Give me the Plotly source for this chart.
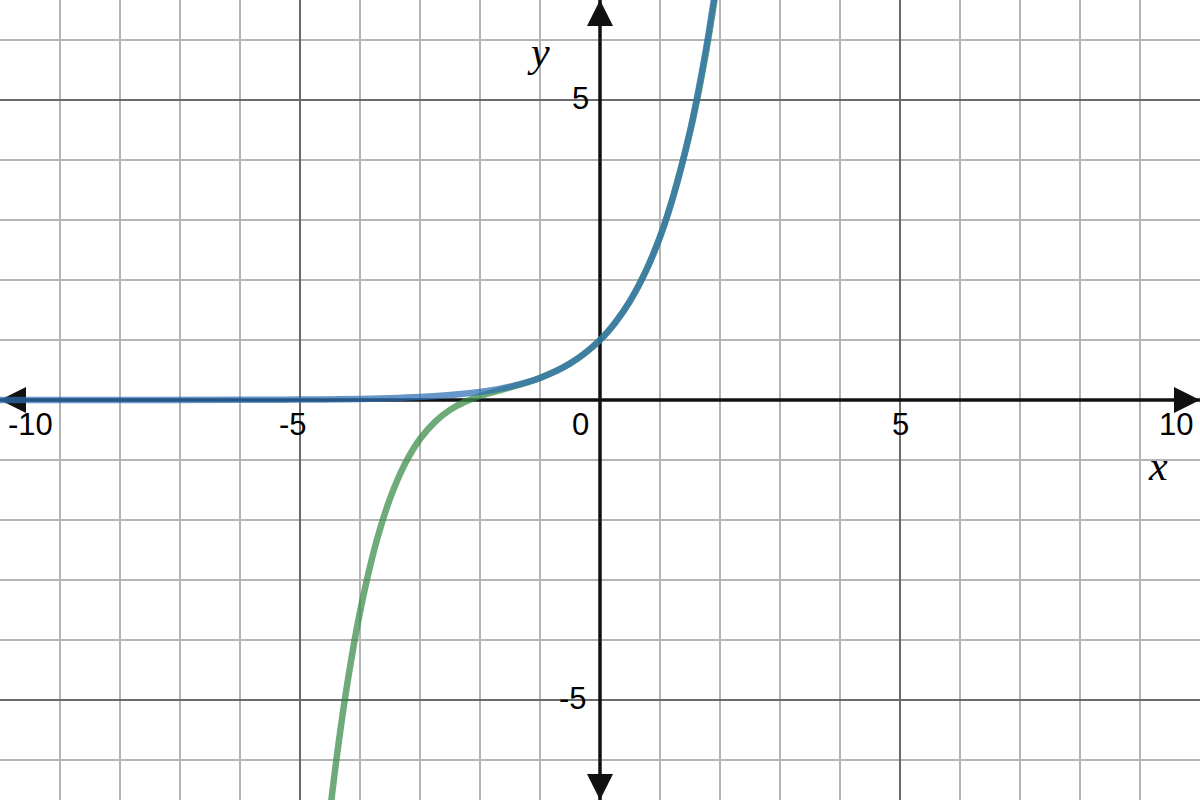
"""Desmos-style plot of e^x and its degree-5 Taylor polynomial."""

import plotly.graph_objects as go

# values
blue_x = [-10, -8, -6, -5, -4, -3.5, -3, -2.5, -2, -1.5, -1, -0.5, 0,
          0.25, 0.5, 0.75, 1, 1.25, 1.5, 1.75, 1.9, 2.0]
blue_y = [0.00005, 0.0003, 0.0025, 0.0067, 0.018, 0.030, 0.050, 0.082, 0.135,
          0.223, 0.368, 0.607, 1, 1.284, 1.649, 2.117, 2.718, 3.490, 4.482,
          5.755, 6.686, 7.389]

green_x = [-4.6, -4.4, -4.2, -4, -3.75, -3.5, -3.25, -3, -2.75, -2.5, -2.25,
           -2, -1.5, -1, -0.5, 0, 0.5, 1, 1.5, 1.75, 2]
green_y = [-7.751, -6.043, -4.654, -3.533, -2.448, -1.645, -1.063, -0.65,
           -0.363, -0.165, -0.030, 0.067, 0.210, 0.367, 0.6065, 1, 1.6487,
           2.7167, 4.4617, 5.702, 7.267]

x_ticks = [-10, -5, 5, 10]
x_tick_text = ["-10", "-5", "5", "10"]
y_ticks = [5, -5]
y_tick_text = ["5", "-5"]

X_RANGE = [-10, 10]
Y_RANGE = [-20 / 3, 20 / 3]

TICK_FONT = dict(family="Liberation Sans, Arial", size=31, color="#000000")
VAR_FONT = dict(family="Liberation Serif, Times New Roman", size=42, color="#000000")

fig = go.Figure()

# axes (drawn under the curves)
fig.add_trace(go.Scatter(x=X_RANGE, y=[0, 0], mode="lines",
                         line=dict(color="#111111", width=3.5),
                         hoverinfo="skip", showlegend=False))
fig.add_trace(go.Scatter(x=[0, 0], y=Y_RANGE, mode="lines",
                         line=dict(color="#111111", width=3.5),
                         hoverinfo="skip", showlegend=False))
# arrow heads
fig.add_trace(go.Scatter(
    x=[X_RANGE[0], X_RANGE[1], 0, 0],
    y=[0, 0, Y_RANGE[1], Y_RANGE[0]],
    mode="markers",
    marker=dict(symbol=["arrow-left", "arrow-right", "arrow-up", "arrow-down"],
                size=26, color="#111111", line=dict(width=0)),
    hoverinfo="skip", showlegend=False,
))

fig.add_trace(go.Scatter(x=green_x, y=green_y, mode="lines",
                         line=dict(color="#388c46", width=6.5, shape="spline"),
                         opacity=0.72, showlegend=False))
fig.add_trace(go.Scatter(x=blue_x, y=blue_y, mode="lines",
                         line=dict(color="#2d70b3", width=6.5, shape="spline"),
                         opacity=0.72, showlegend=False))

# tick labels near the axes
x_shift = {-10: 30, -5: -7, 5: 0, 10: -24}
for v, t in zip(x_ticks, x_tick_text):
    fig.add_annotation(x=v, y=0, text=t, showarrow=False, font=TICK_FONT,
                       xshift=x_shift[v], yshift=-24)
for v, t in zip(y_ticks, y_tick_text):
    fig.add_annotation(x=0, y=v, text=t, showarrow=False, font=TICK_FONT,
                       xshift=-20 if v > 0 else -27, yshift=2)
fig.add_annotation(x=0, y=0, text="0", showarrow=False, font=TICK_FONT,
                   xshift=-20, yshift=-24)

fig.add_annotation(x=X_RANGE[1], y=0, text="<i>x</i>", showarrow=False,
                   font=VAR_FONT, xshift=-42, yshift=-66)
fig.add_annotation(x=0, y=Y_RANGE[1], text="<i>y</i>", showarrow=False,
                   font=VAR_FONT, xshift=-62, yshift=-52)

axis_common = dict(
    showticklabels=False, ticks="", zeroline=False,
    showgrid=True, gridcolor="#6a6a6a", gridwidth=2, dtick=5, tick0=0,
    minor=dict(showgrid=True, dtick=1, tick0=0, gridcolor="#b4b4b4", gridwidth=1.8),
    showline=False, fixedrange=True,
)
fig.update_xaxes(range=X_RANGE, **axis_common)
fig.update_yaxes(range=Y_RANGE, **axis_common)

fig.update_layout(
    width=1200, height=800,
    margin=dict(l=0, r=0, t=0, b=0),
    plot_bgcolor="white", paper_bgcolor="white",
    showlegend=False,
)

# drop the default page margin so the plot fills the window
fig.write_html("out.html", config={"displayModeBar": False},
               post_script="document.body.style.margin = '0';")
